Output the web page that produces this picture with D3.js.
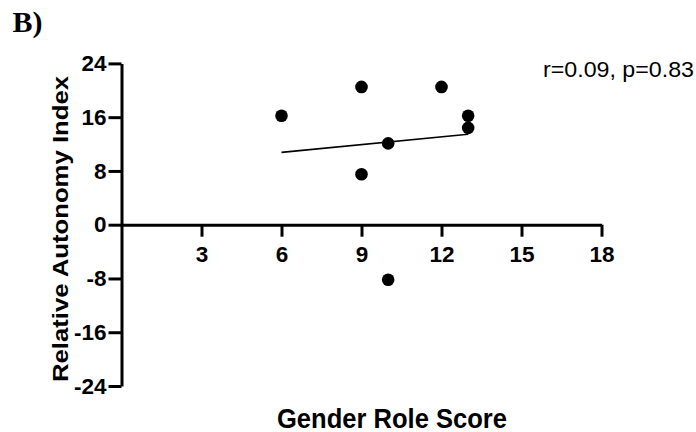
<!DOCTYPE html>
<html>
<head>
<meta charset="utf-8">
<script src="https://cdn.jsdelivr.net/npm/d3@7"></script>
<style>
  body { margin: 0; background: #fff; }
  svg { display: block; font-family: "Liberation Sans", Arial, sans-serif; }
</style>
</head>
<body>
<div id="chart"></div>
<script>
// values
const genderRoleScore = [6, 9, 12, 13, 13, 10, 9, 10];
const autonomyIndex = [16.2, 20.5, 20.5, 16.2, 14.4, 12.1, 7.5, -8.2];
const xTicks = [3, 6, 9, 12, 15, 18];
const yTicks = [-24, -16, -8, 0, 8, 16, 24];
const statsLabel = "r=0.09, p=0.83";

const width = 696, height = 432;

const svg = d3.select('#chart')
  .append('svg')
  .attr('width', width)
  .attr('height', height);

const x = d3.scaleLinear().domain([0, 18]).range([121.5, 601.5]);
const y = d3.scaleLinear().domain([-24, 24]).range([386, 63.4]);

// plain hyphen for negatives, like the original
const fmt = d => String(d);

// X axis through y = 0
const xAxis = svg.append('g')
  .attr('transform', `translate(0,${y(0)})`)
  .call(d3.axisBottom(x).tickValues(xTicks).tickFormat(fmt).tickSize(12).tickSizeOuter(0).tickPadding(9));

// Y axis
const yAxis = svg.append('g')
  .attr('transform', `translate(${x(0)},0)`)
  .call(d3.axisLeft(y).tickValues(yTicks).tickFormat(fmt).tickSize(13).tickSizeOuter(0).tickPadding(2));

[xAxis, yAxis].forEach(g => {
  g.attr('font-size', null).attr('font-family', null);
  g.select('.domain').attr('stroke', '#000').attr('stroke-width', 3);
  g.selectAll('.tick line').attr('stroke', '#000').attr('stroke-width', 3);
  g.selectAll('.tick text')
    .attr('fill', '#000')
    .style('font-size', '22.5px')
    .style('font-weight', 'bold');
});

// Linear regression from the points
const points = genderRoleScore.map((v, i) => ({ gx: v, ay: autonomyIndex[i] }));
const mx = d3.mean(points, d => d.gx);
const my = d3.mean(points, d => d.ay);
const sxy = d3.sum(points, d => (d.gx - mx) * (d.ay - my));
const sxx = d3.sum(points, d => (d.gx - mx) ** 2);
const slope = sxy / sxx;
const intercept = my - slope * mx;
const fitX = d3.extent(genderRoleScore);

svg.append('path')
  .datum(fitX.map(v => ({ gx: v, ay: intercept + slope * v })))
  .attr('fill', 'none')
  .attr('stroke', '#000')
  .attr('stroke-width', 1.6)
  .attr('d', d3.line().x(d => x(d.gx)).y(d => y(d.ay)));

// Points
svg.append('g')
  .selectAll('circle')
  .data(points)
  .join('circle')
  .attr('cx', d => x(d.gx))
  .attr('cy', d => y(d.ay))
  .attr('r', 6.3)
  .attr('fill', '#000');

// Axis titles
svg.append('text')
  .attr('x', 277)
  .attr('y', 427.5)
  .attr('textLength', 230)
  .attr('lengthAdjust', 'spacingAndGlyphs')
  .style('font-size', '28px')
  .style('font-weight', 'bold')
  .text('Gender Role Score');

svg.append('text')
  .attr('transform', 'translate(67.5,382) rotate(-90)')
  .attr('textLength', 306)
  .attr('lengthAdjust', 'spacingAndGlyphs')
  .style('font-size', '22px')
  .style('font-weight', 'bold')
  .text('Relative Autonomy Index');

// Stats annotation
svg.append('text')
  .attr('x', 543)
  .attr('y', 77.3)
  .attr('textLength', 151)
  .attr('lengthAdjust', 'spacingAndGlyphs')
  .style('font-size', '21.5px')
  .text(statsLabel);

// Panel label
svg.append('text')
  .attr('x', 12.5)
  .attr('y', 31.7)
  .style('font-family', '"Liberation Serif", "Times New Roman", serif')
  .style('font-size', '30px')
  .style('font-weight', 'bold')
  .text('B)');
</script>
</body>
</html>
